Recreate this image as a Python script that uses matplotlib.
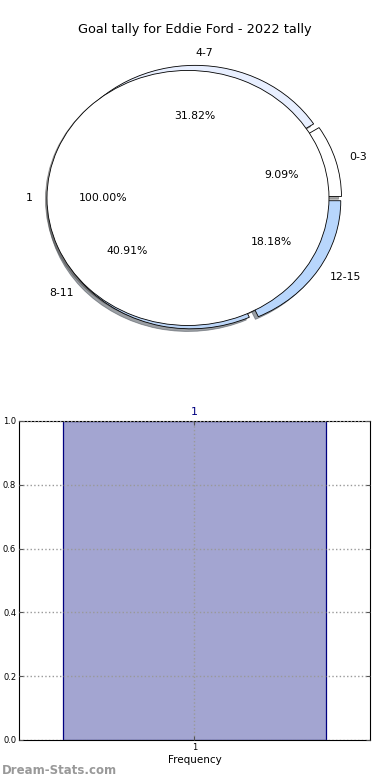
import matplotlib
matplotlib.use('Agg')
import matplotlib.pyplot as plt

# pie data
ring_labels = ['0-3', '4-7', '8-11', '12-15']
ring_values = [2, 7, 9, 4]
ring_colors = ['#ffffff', '#e8efff', '#bcd6f8', '#b8d6fc']

inner_labels = ['1']
inner_values = [1]

# bar data
bar_labels = ['1']
bar_values = [1]

fig = plt.figure(figsize=(3.9, 7.8), dpi=100)

# top: goal tally pie
ax1 = fig.add_axes([0.012, 0.5337, 0.94, 0.425])
ax1.pie(ring_values, labels=ring_labels, colors=ring_colors, autopct='%1.2f%%',
        explode=[0.04] * len(ring_values), center=(0.05, 0),
        shadow={'ox': -0.015, 'oy': -0.015}, startangle=0,
        textprops={'fontsize': 7.8},
        wedgeprops={'linewidth': 0.6, 'edgecolor': 'black'})
ax1.pie(inner_values, labels=inner_labels, colors=['white'], autopct='%1.2f%%',
        shadow={'ox': -0.008, 'oy': -0.008}, startangle=0,
        textprops={'fontsize': 7.8},
        wedgeprops={'linewidth': 0.6, 'edgecolor': 'black'})
ax1.set_aspect('auto')
ax1.set_xlim(-1.3, 1.3)
ax1.set_ylim(-1.3, 1.3)
ax1.axis('off')
fig.text(0.5, 0.962, 'Goal tally for Eddie Ford - 2022 tally', ha='center',
         va='center', fontsize=9.3)

# bottom: frequency bar
ax2 = fig.add_axes([0.0487, 0.0513, 0.9, 0.409])
xs = list(range(1, len(bar_values) + 1))
bars = ax2.bar(xs, bar_values, width=0.75, color='#a3a5d1', edgecolor='#000080',
               linewidth=0.9, zorder=2)
ax2.bar_label(bars, labels=bar_labels, padding=3, color='#000080', fontsize=8)
ax2.set_xlim(0.5, 1.5)
ax2.set_ylim(0, 1.0)
ax2.set_xticks(xs)
ax2.set_xticklabels(bar_labels)
ax2.set_yticks([0.0, 0.2, 0.4, 0.6, 0.8, 1.0])
ax2.tick_params(labelsize=6, direction='in', top=True, right=True, length=3, pad=2,
                color='#555555')
ax2.grid(True, linestyle=':', color='#999999', linewidth=1.0, zorder=3)
ax2.set_axisbelow(False)
ax2.set_xlabel('Frequency', fontsize=7.5, labelpad=2)

fig.text(0.005, 0.012, 'Dream-Stats.com', ha='left', va='center', fontsize=8.5,
         color='#999999', fontweight='bold')

fig.savefig('out.png', dpi=100)
